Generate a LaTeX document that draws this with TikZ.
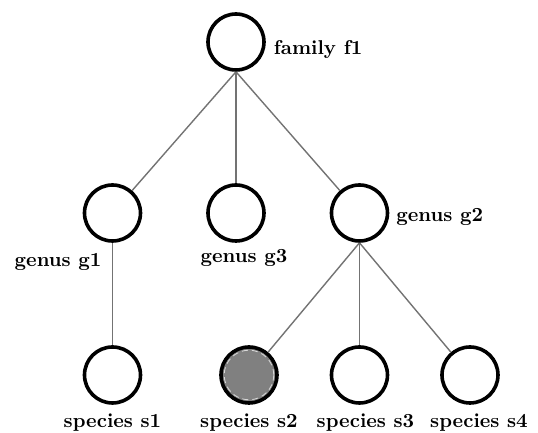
\documentclass[tikz,border=0pt]{standalone}
\usetikzlibrary{positioning}
\begin{document}
\begin{tikzpicture}[
        level 1/.style={sibling distance=61.75pt, level distance=85.5pt},
        level 2/.style={sibling distance=55.25pt, level distance=81pt},
        edge from parent/.style={draw, black!55, line width=0.7pt},
        edge from parent path={(\tikzparentnode.south) -- (\tikzchildnode)},
        taxon/.style={draw=black, circle, line width=1.8pt, minimum size=28pt, inner sep=0pt, fill=white},
        taxonsel/.style={taxon, fill=black!50},
        tag/.style={font=\bfseries, text=black}
    ]

        \useasboundingbox (-118pt,21pt) rectangle (151pt,-195.5pt);

        % Albero
        \node[taxon] (f1) {}
            child {
                node[taxon] (g1) {}
                child {node[taxon] (s1) {}}
            }
            child {node[taxon] (g3) {}}
            child {
                node[taxon] (g2) {}
                child {node[taxonsel] (s2) {}}
                child {node[taxon] (s3) {}}
                child {node[taxon] (s4) {}}
            };

        % Bordo tratteggiato del nodo selezionato
        \draw[white!70!gray, densely dashed, line width=0.4pt] (s2.center) circle (12.4pt);

        % Etichette dei nodi
        \node[tag, right=0.5pt of f1, yshift=-4pt] (f1txt) {family f1};
        \node[tag, anchor=north east, xshift=-2pt, yshift=-2pt] (g1txt) at (g1.south) {genus g1};
        \node[tag, below=0pt of g3, xshift=4pt] (g3txt) {genus g3};
        \node[tag, right=0pt of g2, yshift=-1.75pt] (g2txt) {genus g2};
        \node[tag, below=1pt of s1] (s1txt) {species s1};
        \node[tag, below=1pt of s2] (s2txt) {species s2};
        \node[tag, below=1pt of s3, xshift=3pt] (s3txt) {species s3};
        \node[tag, below=1pt of s4, xshift=4.5pt] (s4txt) {species s4};

    \end{tikzpicture}
\end{document}
